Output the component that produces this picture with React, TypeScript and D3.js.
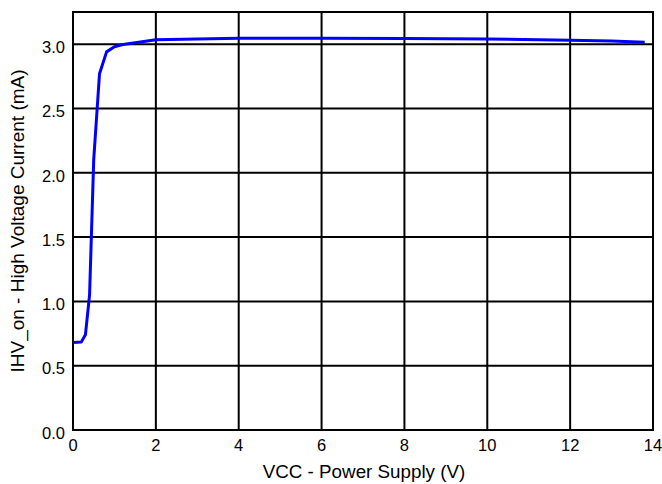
import * as d3 from "d3";

const vcc = [0, 0.2, 0.3, 0.4, 0.5, 0.64, 0.81, 1.0, 1.25, 2, 4, 6, 8, 10, 12, 13, 13.8];
const ihv = [0.68, 0.685, 0.74, 1.05, 2.1, 2.77, 2.94, 2.98, 3.0, 3.035, 3.045, 3.045, 3.043, 3.04, 3.03, 3.025, 3.015];
const xTicks = [0, 2, 4, 6, 8, 10, 12, 14];
const yTicks = [0, 0.5, 1.0, 1.5, 2.0, 2.5, 3.0];

const W = 662;
const H = 484;
const m = { left: 73, right: 9, top: 12, bottom: 54 };

export default function App() {
  const x = d3.scaleLinear().domain([0, 14]).range([m.left, W - m.right]);
  const y = d3.scaleLinear().domain([0, 3.25]).range([H - m.bottom, m.top]);

  const pts = vcc.map((v, i) => [v, ihv[i]] as [number, number]);
  const line = d3
    .line<[number, number]>()
    .x((d) => x(d[0]))
    .y((d) => y(d[1]));

  const font = "'Liberation Sans', Arial, sans-serif";

  return (
    <svg
      width={W}
      height={H}
      style={{ position: "absolute", left: 0, top: 0, background: "#fff" }}
      fontFamily={font}
    >
      {/* grid */}
      {xTicks.map((t) => (
        <line key={"gx" + t} x1={x(t)} x2={x(t)} y1={y(3.25)} y2={y(0)} stroke="#000" strokeWidth={2} />
      ))}
      {yTicks.map((t) => (
        <line key={"gy" + t} x1={x(0)} x2={x(14)} y1={y(t)} y2={y(t)} stroke="#000" strokeWidth={2} />
      ))}
      <rect
        x={x(0)}
        y={y(3.25)}
        width={x(14) - x(0)}
        height={y(0) - y(3.25)}
        fill="none"
        stroke="#000"
        strokeWidth={2}
      />

      <path d={line(pts) ?? ""} fill="none" stroke="#0000ff" strokeWidth={3} strokeLinejoin="round" />

      {/* tick labels */}
      {xTicks.map((t) => (
        <text key={"lx" + t} x={x(t)} y={y(0) + 21} textAnchor="middle" fontSize={16.5} fill="#000">
          {t}
        </text>
      ))}
      {yTicks.map((t) => (
        <text key={"ly" + t} x={x(0) - 8} y={y(t) + 3} dy="0.35em" textAnchor="end" fontSize={16.5} fill="#000">
          {t.toFixed(1)}
        </text>
      ))}

      <text x={(x(0) + x(14)) / 2 + 1} y={478} textAnchor="middle" fontSize={18.8} fill="#000">
        VCC - Power Supply (V)
      </text>
      <text
        transform={`translate(24,${(y(0) + y(3.25)) / 2}) rotate(-90)`}
        textAnchor="middle"
        fontSize={19}
        fill="#000"
      >
        IHV_on - High Voltage Current (mA)
      </text>
    </svg>
  );
}
